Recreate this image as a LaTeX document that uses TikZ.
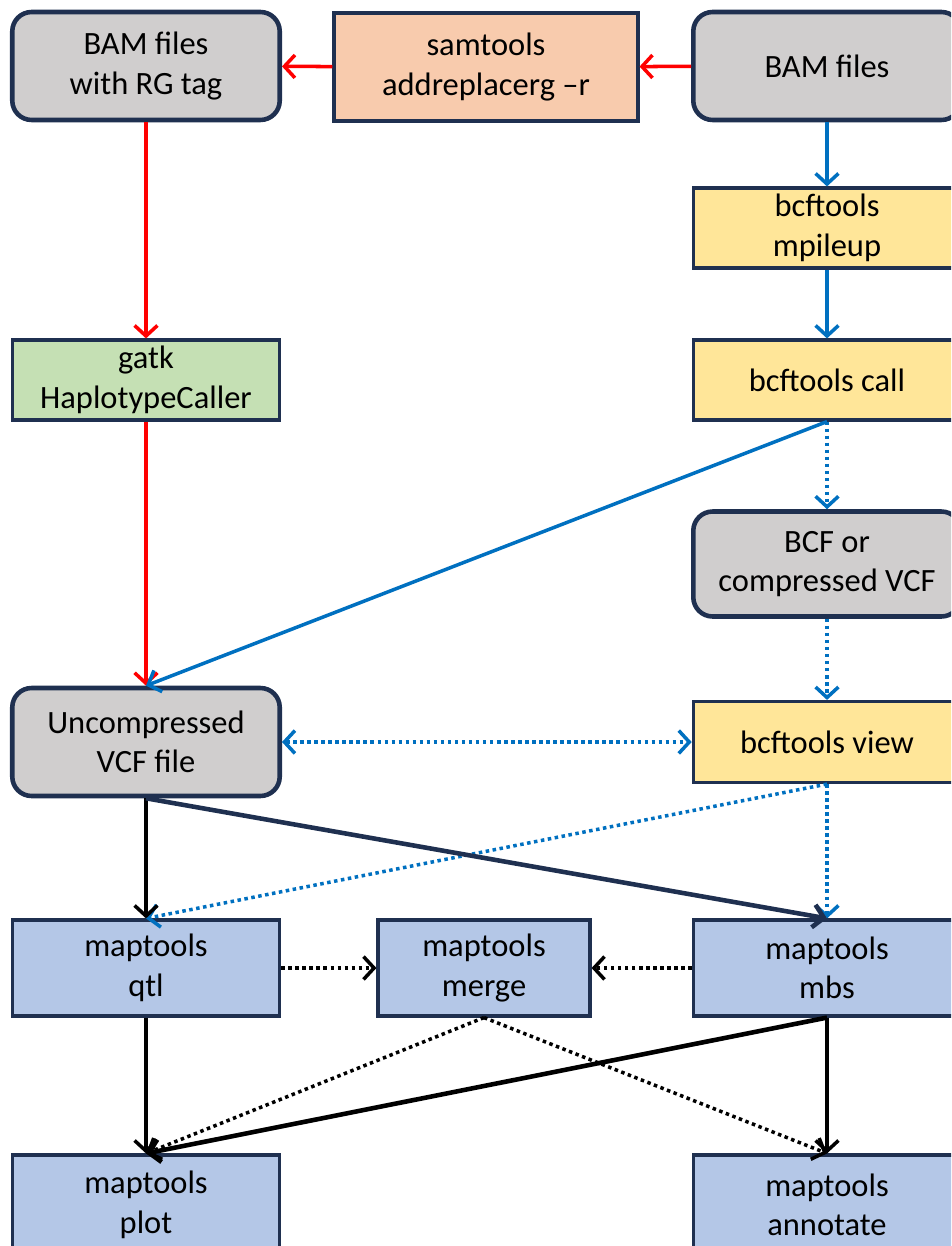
\documentclass[tikz,border=0pt]{standalone}
\usepackage{fontspec}
\setmainfont{Carlito}
\usetikzlibrary{arrows.meta, positioning}
\definecolor{bxgray}{HTML}{D0CECE}
\definecolor{bxorange}{HTML}{F8CBAD}
\definecolor{bxyellow}{HTML}{FFE699}
\definecolor{bxgreen}{HTML}{C5E0B4}
\definecolor{bxblue}{HTML}{B4C7E7}
\definecolor{bxline}{HTML}{1F3050}
\definecolor{flred}{HTML}{FF0000}
\definecolor{flblue}{HTML}{0070C0}

\begin{document}
\begin{tikzpicture}[
  x=0.02cm, y=-0.02cm,
  every node/.style={font=\fontsize{18.5}{22.5}\selectfont},
  box/.style={rectangle, draw=bxline, fill=#1, line width=1.8pt, minimum width=5.35cm, minimum height=1.6cm, align=center, inner sep=2pt},
  file/.style={box=bxgray, rounded corners=11pt, line width=2.6pt, minimum height=2.16cm},
  arrow/.style={-{Straight Barb[length=6pt, width=13pt]}, line width=2pt, #1},
  dblarrow/.style={{Straight Barb[length=6pt, width=13pt]}-{Straight Barb[length=6pt, width=13pt]}, line width=2pt, #1},
  dotline/.style={dash pattern=on 2pt off 2pt},
]
\useasboundingbox (0,0) rectangle (951,1246);
\clip (0,0) rectangle (951,1246);

\node[file] (bamrg) at (146,66) {BAM files\\with RG tag};
\node[box=bxorange, minimum width=6.08cm, minimum height=2.16cm] (sam) at (486,67) {samtools\\addreplacerg –r};
\node[file] (bam) at (827,66) {BAM files};
\node[box=bxyellow] (mpileup) at (827,228) {bcftools\\mpileup};
\node[box=bxgreen] (gatk) at (146,380) {gatk\\HaplotypeCaller};
\node[box=bxyellow] (call) at (827,380) {bcftools call};
\node[file, minimum height=2.1cm] (bcf) at (827,564) {BCF or\\compressed VCF};
\node[file] (vcf) at (146,742) {Uncompressed\\VCF file};
\node[box=bxyellow, minimum height=1.62cm] (view) at (827,742) {bcftools view};
\node[box=bxblue, minimum height=1.92cm] (qtl) at (146,968) {maptools\\qtl};
\node[box=bxblue, minimum width=4.24cm, minimum height=1.92cm] (merge) at (484,968) {maptools\\merge};
\node[box=bxblue, minimum height=1.92cm] (mbs) at (827,968) {maptools\\mbs};
\node[box=bxblue, minimum height=2cm] (plot) at (146,1205) {maptools\\plot};
\node[box=bxblue, minimum height=2cm] (annot) at (827,1205) {maptools\\annotate};

\draw[arrow=flred] (bam) -- (sam);
\draw[arrow=flred] (sam) -- (bamrg);
\draw[arrow=flred] (bamrg) -- (gatk);
\draw[arrow=flred] (gatk) -- (vcf);
\draw[arrow=flblue] (bam) -- (mpileup);
\draw[arrow=flblue] (mpileup) -- (call);
\draw[arrow=flblue, dotline] (call) -- (bcf);
\draw[arrow=flblue] (call.south) -- (vcf.north);
\draw[arrow=flblue, dotline] (bcf) -- (view);
\draw[dblarrow=flblue, dotline] (vcf) -- (view);
\draw[arrow=flblue, dotline] (view.south) -- (qtl.north);
\draw[arrow=flblue, dotline] (view) -- (mbs);
\draw[arrow=black] (vcf) -- (qtl);
\draw[arrow=bxline, line width=2.6pt] (vcf.south) -- (mbs.north);
\draw[arrow=black, dotline] (qtl) -- (merge);
\draw[arrow=black, dotline] (mbs) -- (merge);
\draw[arrow=black] (qtl) -- (plot);
\draw[arrow=black, dotline] (merge.south) -- (plot.north);
\draw[arrow=black, dotline] (merge.south) -- (annot.north);
\draw[arrow=black, line width=2.6pt] (mbs.south) -- (plot.north);
\draw[arrow=black] (mbs) -- (annot);
\end{tikzpicture}
\end{document}
